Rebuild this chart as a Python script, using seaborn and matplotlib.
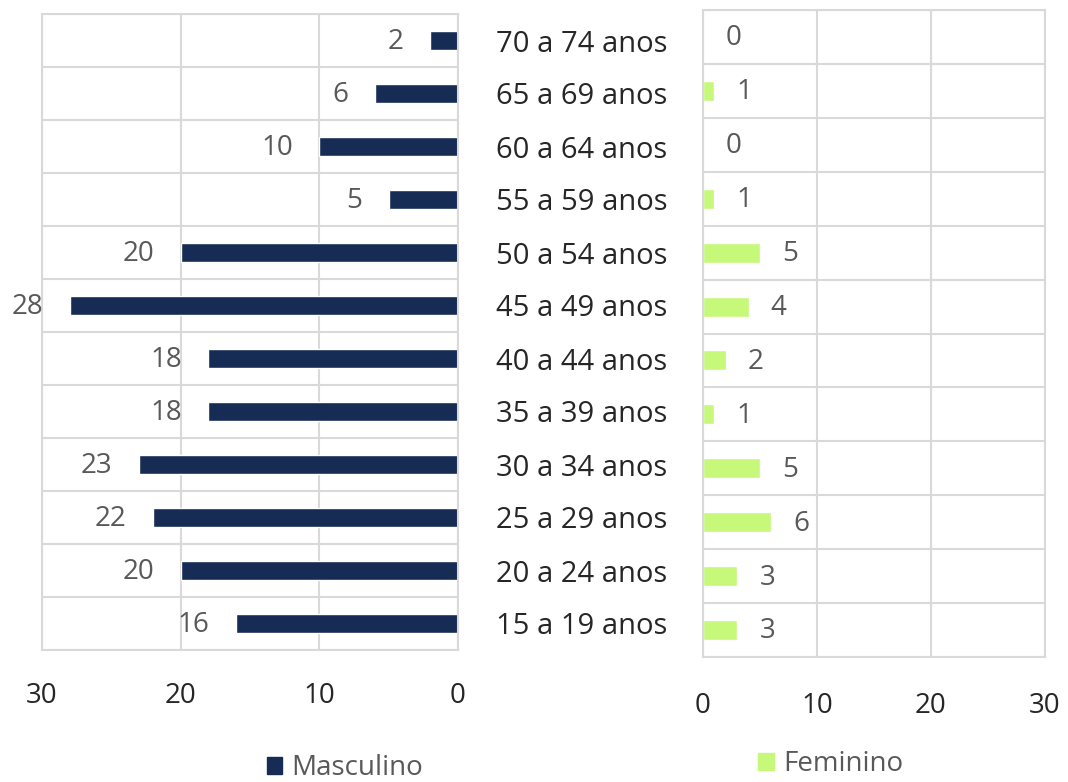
import numpy as np
import pandas as pd
import matplotlib.pyplot as plt
import seaborn as sns
from matplotlib.patches import Patch

faixas = ['70 a 74 anos', '65 a 69 anos', '60 a 64 anos', '55 a 59 anos',
          '50 a 54 anos', '45 a 49 anos', '40 a 44 anos', '35 a 39 anos',
          '30 a 34 anos', '25 a 29 anos', '20 a 24 anos', '15 a 19 anos']
masculino = [2, 6, 10, 5, 20, 28, 18, 18, 23, 22, 20, 16]
feminino = [0, 1, 0, 1, 5, 4, 2, 1, 5, 6, 3, 3]
ticks = [0, 10, 20, 30]

df = pd.DataFrame({'faixa': faixas, 'Masculino': masculino, 'Feminino': feminino})

navy = '#172c54'
green = '#c6f97a'
grid = '#d9d9d9'

sns.set_theme(style='white')
plt.rcParams['font.family'] = ['Open Sans', 'DejaVu Sans']

W, H = 1068, 782
fig = plt.figure(figsize=(W / 100, H / 100), dpi=100)
ax1 = fig.add_axes([42 / W, 1 - 650 / H, 416 / W, 636 / H])
ax2 = fig.add_axes([703 / W, 1 - 657 / H, 342 / W, 647 / H])

sns.barplot(data=df, x='Masculino', y='faixa', color=navy, saturation=1, width=0.34, ax=ax1)
sns.barplot(data=df, x='Feminino', y='faixa', color=green, saturation=1, width=0.37, ax=ax2)

ax1.set_xlim(30, 0)
ax2.set_xlim(0, 30)

for ax, pad in ((ax1, 23), (ax2, 25)):
    ax.set_ylim(11.5, -0.5)
    ax.set_xticks(ticks)
    ax.set_yticks(np.arange(-0.5, 12, 1), minor=True)
    ax.grid(False)
    ax.grid(which='minor', axis='y', color=grid, lw=1.5)
    ax.grid(which='major', axis='x', color=grid, lw=1.5)
    ax.set_axisbelow(True)
    ax.set_xlabel('')
    ax.set_ylabel('')
    ax.tick_params(which='both', length=0)
    ax.tick_params(axis='x', labelsize=20, labelcolor='#262626', pad=pad)
    for s in ax.spines.values():
        s.set_visible(True)
        s.set_color(grid)
        s.set_linewidth(1.5)

ax1.yaxis.tick_right()
ax1.tick_params(axis='y', labelsize=21, labelcolor='#262626', pad=27)
ax2.set_yticklabels([])

for i, v in enumerate(masculino):
    ax1.annotate(str(v), (v, i), xytext=(-19, -1), textcoords='offset points',
                 ha='right', va='center', fontsize=20, color='#595959')
for i, v in enumerate(feminino):
    ax2.annotate(str(v), (v, i), xytext=(16, -1), textcoords='offset points',
                 ha='left', va='center', fontsize=20, color='#595959')

ax1.legend(handles=[Patch(color=navy, label='Masculino')], loc='center',
           bbox_to_anchor=(345 / W, 1 - 768 / H), bbox_transform=fig.transFigure,
           frameon=False, fontsize=20, labelcolor='#595959',
           handlelength=0.55, handleheight=0.55, handletextpad=0.35)
ax2.legend(handles=[Patch(color=green, label='Feminino')], loc='center',
           bbox_to_anchor=(831 / W, 1 - 764 / H), bbox_transform=fig.transFigure,
           frameon=False, fontsize=20, labelcolor='#595959',
           handlelength=0.55, handleheight=0.55, handletextpad=0.35)

fig.savefig('out.png', dpi=100, facecolor='white')
